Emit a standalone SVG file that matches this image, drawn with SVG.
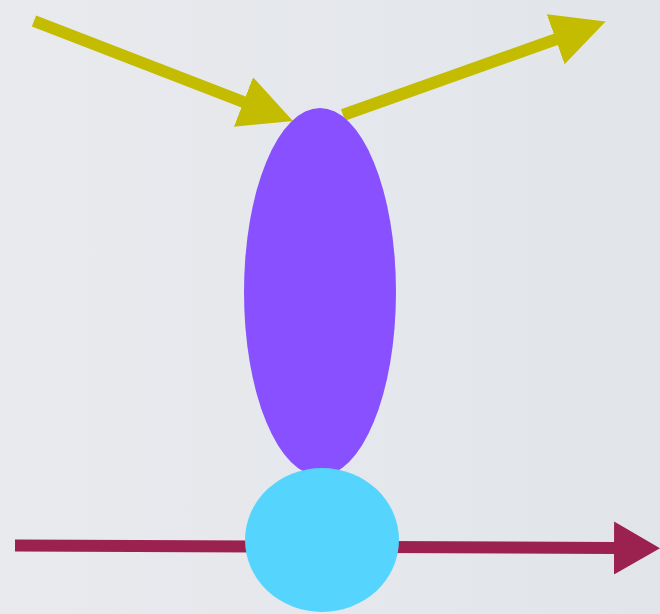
<svg xmlns="http://www.w3.org/2000/svg" width="660" height="614" viewBox="0 0 660 614">
  <style>
    .yl { stroke: #c4bc00; stroke-width: 12; fill: none; }
    .mr { stroke: #9b214f; stroke-width: 12; fill: none; }
  </style>
  <defs>
    <linearGradient id="bg" x1="0" y1="0" x2="1" y2="0">
      <stop offset="0" stop-color="#e9eaee"/>
      <stop offset="1" stop-color="#e1e5ea"/>
    </linearGradient>
    <marker id="headY" viewBox="0 0 53 53" markerWidth="53" markerHeight="53" markerUnits="userSpaceOnUse" refX="1.5" refY="26.5" orient="auto">
      <path d="M0,0 L53,26.5 L0,53 Z" fill="#c4bc00"/>
    </marker>
    <marker id="headM" viewBox="0 0 46 53" markerWidth="46" markerHeight="53" markerUnits="userSpaceOnUse" refX="1" refY="26.5" orient="auto">
      <path d="M0,0 L46,26.5 L0,53 Z" fill="#9b214f"/>
    </marker>
  </defs>
  <rect x="0" y="0" width="660" height="614" fill="url(#bg)"/>
  <g id="connectors">
    <line class="yl" x1="34" y1="21" x2="244.9" y2="102.5" marker-end="url(#headY)"/>
    <line class="yl" x1="343" y1="115" x2="557.1" y2="38.8" marker-end="url(#headY)"/>
    <line class="mr" x1="15" y1="545.5" x2="615" y2="548" marker-end="url(#headM)"/>
  </g>
  <g id="node-purple">
    <ellipse cx="320" cy="292" rx="76" ry="184" fill="#8850fe"/>
  </g>
  <g id="node-cyan">
    <ellipse cx="322" cy="540" rx="77" ry="72" fill="#55d4fe"/>
  </g>
</svg>
